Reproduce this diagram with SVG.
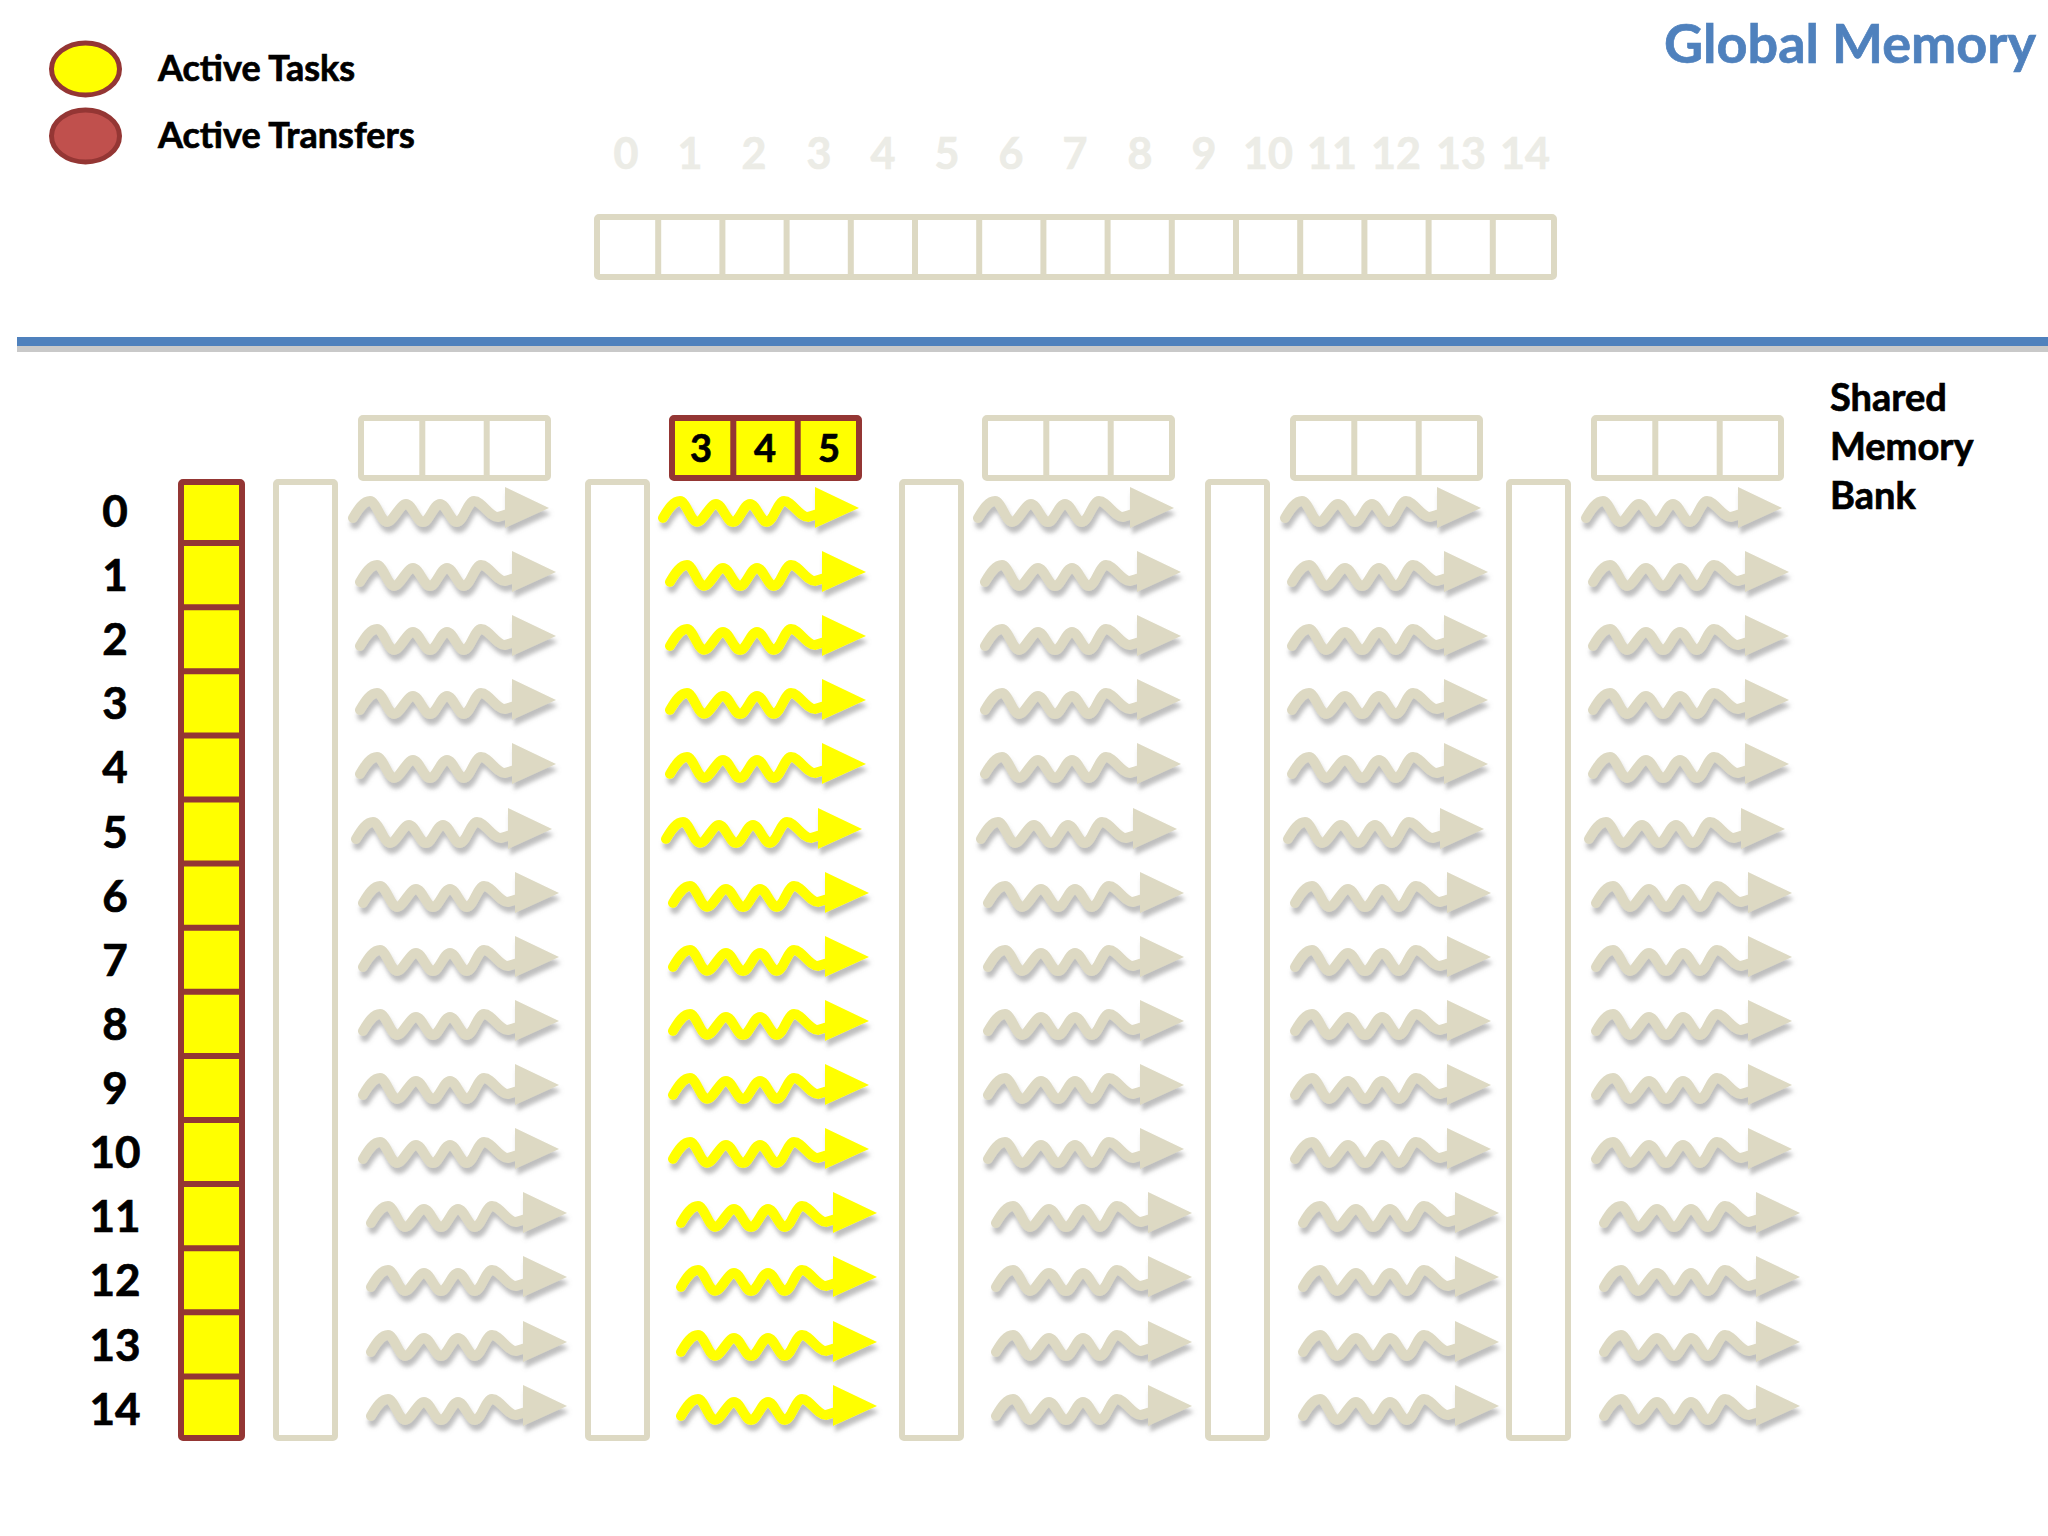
<svg xmlns="http://www.w3.org/2000/svg" xmlns:xlink="http://www.w3.org/1999/xlink" width="2048" height="1536" viewBox="0 0 2048 1536">
<style>
.t{font-family:Lato,"Liberation Sans",sans-serif;font-weight:700;fill:#000;stroke:#000;stroke-width:0.7}
.num{font-size:44px;text-anchor:middle}
.gnum{font-family:Lato,"Liberation Sans",sans-serif;font-weight:700;font-size:43px;fill:#ecece6;stroke:#ecece6;stroke-width:0.7;text-anchor:middle}
.box{fill:#fff;stroke:#ddd9c3;stroke-width:6}
.div{stroke:#ddd9c3;stroke-width:6}
.act{fill:#ffff00;stroke:#943634;stroke-width:6}
.adiv{stroke:#943634;stroke-width:6}
</style>
<defs>
<filter id="sh" x="-10%" y="-30%" width="130%" height="180%">
<feDropShadow dx="2" dy="6" stdDeviation="2.2" flood-color="#7f7f7f" flood-opacity="0.5"/>
</filter>
<g id="arrowShape">
<path d="M0,7 C6,-3 11,-10 17,-10 C23,-10 28,11 34,11 C40,11 47,-7 53,-7 C59,-7 64,11 70,11 C76,11 81,-7 87,-7 C93,-7 98,11 104,11 C110,11 115,-10 121,-10 C129,-10 136,6 145,6 L158,2" fill="none" stroke-width="10" stroke-linecap="round" stroke-linejoin="round"/>
<polygon points="152,-24 152,17 196,-3" stroke="none"/>
</g>
<use id="arrowGray" xlink:href="#arrowShape" href="#arrowShape" fill="#ddd9c3" stroke="#ddd9c3" filter="url(#sh)"/>
<use id="arrowYellow" xlink:href="#arrowShape" href="#arrowShape" fill="#ffff00" stroke="#ffff00" filter="url(#sh)"/>
</defs>
<rect width="2048" height="1536" fill="#fff"/>

<g id="legend-active-tasks">
<ellipse cx="85.5" cy="69" rx="34" ry="26" fill="#ffff00" stroke="#943634" stroke-width="5"/>
<text class="t" x="158" y="81" font-size="36">Active Tasks</text>
</g>
<g id="legend-active-transfers">
<ellipse cx="85.5" cy="136" rx="34" ry="26" fill="#c0504d" stroke="#943634" stroke-width="5"/>
<text class="t" x="158" y="148" font-size="36">Active Transfers</text>
</g>

<g id="global-memory-title">
<text class="t" x="2036" y="63" font-size="54" text-anchor="end" style="fill:#4f81bd;stroke:#4f81bd">Global Memory</text>
</g>

<g id="global-memory">
<g>
<text class="gnum" x="626" y="169">0</text>
<text class="gnum" x="690" y="169">1</text>
<text class="gnum" x="754" y="169">2</text>
<text class="gnum" x="819" y="169">3</text>
<text class="gnum" x="883" y="169">4</text>
<text class="gnum" x="947" y="169">5</text>
<text class="gnum" x="1011" y="169">6</text>
<text class="gnum" x="1075" y="169">7</text>
<text class="gnum" x="1140" y="169">8</text>
<text class="gnum" x="1204" y="169">9</text>
<text class="gnum" x="1268" y="169">10</text>
<text class="gnum" x="1332" y="169">11</text>
<text class="gnum" x="1396" y="169">12</text>
<text class="gnum" x="1461" y="169">13</text>
<text class="gnum" x="1525" y="169">14</text>
</g>
<rect class="box" x="597" y="217" width="957" height="60" rx="2"/>
<path class="div" d="M658.2,217V277M722.4,217V277M786.6,217V277M850.8,217V277M915,217V277M979.2,217V277M1043.4,217V277M1107.6,217V277M1171.8,217V277M1236,217V277M1300.2,217V277M1364.4,217V277M1428.6,217V277M1492.8,217V277"/>
</g>

<g id="divider">
<rect x="17" y="345" width="2031" height="7" fill="#c9c9c9"/>
<rect x="17" y="337" width="2031" height="9" fill="#4f81bd"/>
</g>

<g id="shared-memory-label">
<text class="t" font-size="38"><tspan x="1830" y="411">Shared</tspan><tspan x="1830" y="460">Memory</tspan><tspan x="1830" y="509">Bank</tspan></text>
</g>

<g id="thread-ids">
<text class="t num" x="115" y="527">0</text>
<text class="t num" x="115" y="591">1</text>
<text class="t num" x="115" y="655">2</text>
<text class="t num" x="115" y="719">3</text>
<text class="t num" x="115" y="783">4</text>
<text class="t num" x="115" y="848">5</text>
<text class="t num" x="115" y="912">6</text>
<text class="t num" x="115" y="976">7</text>
<text class="t num" x="115" y="1040">8</text>
<text class="t num" x="115" y="1104">9</text>
<text class="t num" x="115" y="1168">10</text>
<text class="t num" x="115" y="1232">11</text>
<text class="t num" x="115" y="1296">12</text>
<text class="t num" x="115" y="1361">13</text>
<text class="t num" x="115" y="1425">14</text>
</g>

<g id="active-tasks-column">
<rect class="act" x="181" y="482" width="61" height="956" rx="2"/>
<path class="adiv" d="M181,543.1H242M181,607.2H242M181,671.3H242M181,735.4H242M181,799.5H242M181,863.6H242M181,927.7H242M181,991.8H242M181,1055.9H242M181,1120H242M181,1184.1H242M181,1248.2H242M181,1312.3H242M181,1376.4H242"/>
</g>

<g id="bank-column-1"><rect class="box" x="276" y="482" width="59" height="956" rx="2"/></g>
<g id="bank-column-2"><rect class="box" x="588" y="482" width="59" height="956" rx="2"/></g>
<g id="bank-column-3"><rect class="box" x="902" y="482" width="59" height="956" rx="2"/></g>
<g id="bank-column-4"><rect class="box" x="1208" y="482" width="59" height="956" rx="2"/></g>
<g id="bank-column-5"><rect class="box" x="1509" y="482" width="59" height="956" rx="2"/></g>

<g id="shared-memory-1">
<rect class="box" x="361" y="418" width="187" height="60" rx="2"/>
<path class="div" d="M422.3,418V478M486.7,418V478"/>
</g>
<g id="shared-memory-2">
<rect class="act" x="672" y="418" width="187" height="60" rx="2"/>
<path class="adiv" d="M733.3,418V478M797.7,418V478"/>
<text class="t" x="701" y="462" font-size="38" text-anchor="middle">3</text>
<text class="t" x="765" y="462" font-size="38" text-anchor="middle">4</text>
<text class="t" x="829" y="462" font-size="38" text-anchor="middle">5</text>
</g>
<g id="shared-memory-3">
<rect class="box" x="985" y="418" width="187" height="60" rx="2"/>
<path class="div" d="M1046.3,418V478M1110.7,418V478"/>
</g>
<g id="shared-memory-4">
<rect class="box" x="1293" y="418" width="187" height="60" rx="2"/>
<path class="div" d="M1354.3,418V478M1418.7,418V478"/>
</g>
<g id="shared-memory-5">
<rect class="box" x="1594" y="418" width="187" height="60" rx="2"/>
<path class="div" d="M1655.3,418V478M1719.7,418V478"/>
</g>

<g id="connectors">
<g id="transfers-1">
<use href="#arrowGray" xlink:href="#arrowGray" x="353" y="511"/>
<use href="#arrowGray" xlink:href="#arrowGray" x="360" y="575"/>
<use href="#arrowGray" xlink:href="#arrowGray" x="360" y="639"/>
<use href="#arrowGray" xlink:href="#arrowGray" x="360" y="703"/>
<use href="#arrowGray" xlink:href="#arrowGray" x="360" y="767"/>
<use href="#arrowGray" xlink:href="#arrowGray" x="356" y="832"/>
<use href="#arrowGray" xlink:href="#arrowGray" x="363" y="896"/>
<use href="#arrowGray" xlink:href="#arrowGray" x="363" y="960"/>
<use href="#arrowGray" xlink:href="#arrowGray" x="363" y="1024"/>
<use href="#arrowGray" xlink:href="#arrowGray" x="363" y="1088"/>
<use href="#arrowGray" xlink:href="#arrowGray" x="363" y="1152"/>
<use href="#arrowGray" xlink:href="#arrowGray" x="371" y="1216"/>
<use href="#arrowGray" xlink:href="#arrowGray" x="371" y="1280"/>
<use href="#arrowGray" xlink:href="#arrowGray" x="371" y="1345"/>
<use href="#arrowGray" xlink:href="#arrowGray" x="371" y="1409"/>
</g>
<g id="transfers-2">
<use href="#arrowYellow" xlink:href="#arrowYellow" x="663" y="511"/>
<use href="#arrowYellow" xlink:href="#arrowYellow" x="670" y="575"/>
<use href="#arrowYellow" xlink:href="#arrowYellow" x="670" y="639"/>
<use href="#arrowYellow" xlink:href="#arrowYellow" x="670" y="703"/>
<use href="#arrowYellow" xlink:href="#arrowYellow" x="670" y="767"/>
<use href="#arrowYellow" xlink:href="#arrowYellow" x="666" y="832"/>
<use href="#arrowYellow" xlink:href="#arrowYellow" x="673" y="896"/>
<use href="#arrowYellow" xlink:href="#arrowYellow" x="673" y="960"/>
<use href="#arrowYellow" xlink:href="#arrowYellow" x="673" y="1024"/>
<use href="#arrowYellow" xlink:href="#arrowYellow" x="673" y="1088"/>
<use href="#arrowYellow" xlink:href="#arrowYellow" x="673" y="1152"/>
<use href="#arrowYellow" xlink:href="#arrowYellow" x="681" y="1216"/>
<use href="#arrowYellow" xlink:href="#arrowYellow" x="681" y="1280"/>
<use href="#arrowYellow" xlink:href="#arrowYellow" x="681" y="1345"/>
<use href="#arrowYellow" xlink:href="#arrowYellow" x="681" y="1409"/>
</g>
<g id="transfers-3">
<use href="#arrowGray" xlink:href="#arrowGray" x="978" y="511"/>
<use href="#arrowGray" xlink:href="#arrowGray" x="985" y="575"/>
<use href="#arrowGray" xlink:href="#arrowGray" x="985" y="639"/>
<use href="#arrowGray" xlink:href="#arrowGray" x="985" y="703"/>
<use href="#arrowGray" xlink:href="#arrowGray" x="985" y="767"/>
<use href="#arrowGray" xlink:href="#arrowGray" x="981" y="832"/>
<use href="#arrowGray" xlink:href="#arrowGray" x="988" y="896"/>
<use href="#arrowGray" xlink:href="#arrowGray" x="988" y="960"/>
<use href="#arrowGray" xlink:href="#arrowGray" x="988" y="1024"/>
<use href="#arrowGray" xlink:href="#arrowGray" x="988" y="1088"/>
<use href="#arrowGray" xlink:href="#arrowGray" x="988" y="1152"/>
<use href="#arrowGray" xlink:href="#arrowGray" x="996" y="1216"/>
<use href="#arrowGray" xlink:href="#arrowGray" x="996" y="1280"/>
<use href="#arrowGray" xlink:href="#arrowGray" x="996" y="1345"/>
<use href="#arrowGray" xlink:href="#arrowGray" x="996" y="1409"/>
</g>
<g id="transfers-4">
<use href="#arrowGray" xlink:href="#arrowGray" x="1285" y="511"/>
<use href="#arrowGray" xlink:href="#arrowGray" x="1292" y="575"/>
<use href="#arrowGray" xlink:href="#arrowGray" x="1292" y="639"/>
<use href="#arrowGray" xlink:href="#arrowGray" x="1292" y="703"/>
<use href="#arrowGray" xlink:href="#arrowGray" x="1292" y="767"/>
<use href="#arrowGray" xlink:href="#arrowGray" x="1288" y="832"/>
<use href="#arrowGray" xlink:href="#arrowGray" x="1295" y="896"/>
<use href="#arrowGray" xlink:href="#arrowGray" x="1295" y="960"/>
<use href="#arrowGray" xlink:href="#arrowGray" x="1295" y="1024"/>
<use href="#arrowGray" xlink:href="#arrowGray" x="1295" y="1088"/>
<use href="#arrowGray" xlink:href="#arrowGray" x="1295" y="1152"/>
<use href="#arrowGray" xlink:href="#arrowGray" x="1303" y="1216"/>
<use href="#arrowGray" xlink:href="#arrowGray" x="1303" y="1280"/>
<use href="#arrowGray" xlink:href="#arrowGray" x="1303" y="1345"/>
<use href="#arrowGray" xlink:href="#arrowGray" x="1303" y="1409"/>
</g>
<g id="transfers-5">
<use href="#arrowGray" xlink:href="#arrowGray" x="1586" y="511"/>
<use href="#arrowGray" xlink:href="#arrowGray" x="1593" y="575"/>
<use href="#arrowGray" xlink:href="#arrowGray" x="1593" y="639"/>
<use href="#arrowGray" xlink:href="#arrowGray" x="1593" y="703"/>
<use href="#arrowGray" xlink:href="#arrowGray" x="1593" y="767"/>
<use href="#arrowGray" xlink:href="#arrowGray" x="1589" y="832"/>
<use href="#arrowGray" xlink:href="#arrowGray" x="1596" y="896"/>
<use href="#arrowGray" xlink:href="#arrowGray" x="1596" y="960"/>
<use href="#arrowGray" xlink:href="#arrowGray" x="1596" y="1024"/>
<use href="#arrowGray" xlink:href="#arrowGray" x="1596" y="1088"/>
<use href="#arrowGray" xlink:href="#arrowGray" x="1596" y="1152"/>
<use href="#arrowGray" xlink:href="#arrowGray" x="1604" y="1216"/>
<use href="#arrowGray" xlink:href="#arrowGray" x="1604" y="1280"/>
<use href="#arrowGray" xlink:href="#arrowGray" x="1604" y="1345"/>
<use href="#arrowGray" xlink:href="#arrowGray" x="1604" y="1409"/>
</g>
</g>
</svg>
